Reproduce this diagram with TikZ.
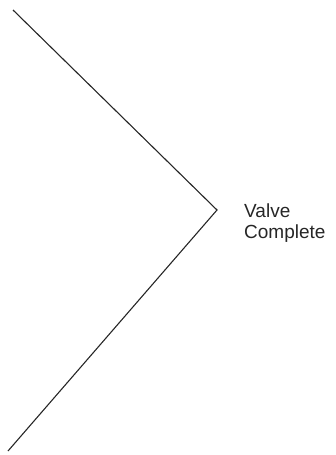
\documentclass[tikz,border=0pt]{standalone}
\usepackage{fontspec}
\setmainfont{Liberation Sans}
\begin{document}
\begin{tikzpicture}[x=1pt,y=-1pt,
  edge/.style={line width=1.1pt,black!85},
  lbl/.style={font=\fontsize{19}{21}\selectfont,align=left,inner sep=0pt,anchor=base west,text=black!85}]
\useasboundingbox (0,0) rectangle (336,455);
\coordinate (top) at (13,10);
\coordinate (apex) at (217,210);
\coordinate (bottom) at (8,451);
\draw[edge,line join=miter] (top) -- (apex) -- (bottom);
\node[lbl] (label) at (244,238) {Valve\\Complete};
\end{tikzpicture}
\end{document}
